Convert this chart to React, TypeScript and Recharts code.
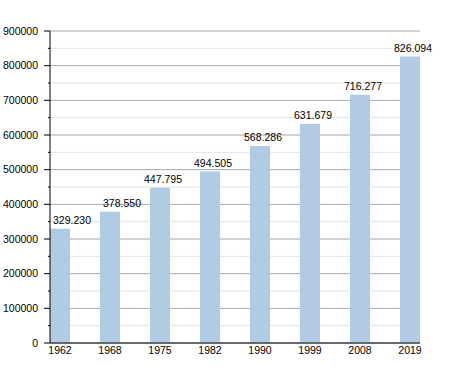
import { Bar, BarChart, CartesianGrid, LabelList, XAxis, YAxis } from "recharts";

const years = ["1962", "1968", "1975", "1982", "1990", "1999", "2008", "2019"];
const population = [329230, 378550, 447795, 494505, 568286, 631679, 716277, 826094];
const yTicks = [
  0, 50000, 100000, 150000, 200000, 250000, 300000, 350000, 400000, 450000,
  500000, 550000, 600000, 650000, 700000, 750000, 800000, 850000, 900000,
];
const majorTicks = yTicks.filter((v) => v % 100000 === 0);
const minorTicks = yTicks.filter((v) => v % 100000 !== 0);

const data = years.map((year, i) => ({ idx: i, year, value: population[i] }));

const font = "'Liberation Sans', Arial, sans-serif";

// 329230 -> "329.230"
const fmt = (n: number) => String(n).replace(/\B(?=(\d{3})+(?!\d))/g, ".");

function YTick(props: any) {
  const { x, y, payload } = props;
  const major = payload.value % 100000 === 0;
  return (
    <g>
      <line x1={x - (major ? 6 : 2)} x2={x} y1={y} y2={y} stroke="#000" />
      {major && (
        <text x={x - 12} y={y} dy="0.35em" textAnchor="end" fontSize={10.5} fontFamily={font} fill="#000">
          {payload.value}
        </text>
      )}
    </g>
  );
}

function ValueLabel(props: any) {
  const { x, y, width, value, index } = props;
  const shift = index < 2 ? 12 : 3;
  return (
    <text
      x={x + width / 2 + shift}
      y={y - 5}
      textAnchor="middle"
      fontSize={10.5}
      fontFamily={font}
      fill="#000"
    >
      {fmt(value)}
    </text>
  );
}

export default function App() {
  return (
    <div style={{ position: "absolute", left: 0, top: 0, background: "#fff" }}>
      <BarChart
        width={450}
        height={373}
        data={data}
        margin={{ top: 31, right: 30, bottom: 0, left: 0 }}
      >
        <CartesianGrid vertical={false} horizontalValues={minorTicks} stroke="#e3e3e3" />
        <CartesianGrid vertical={false} horizontalValues={majorTicks} stroke="#a6a6a6" />
        <XAxis
          dataKey="idx"
          type="number"
          domain={[-0.2, 7.2]}
          ticks={[0, 1, 2, 3, 4, 5, 6, 7]}
          tickFormatter={(i: number) => years[i]}
          height={30}
          tickLine={false}
          tickSize={0}
          tickMargin={4}
          axisLine={{ stroke: "#000" }}
          tick={{ fontSize: 10.5, fontFamily: font, fill: "#000" }}
          interval={0}
        />
        <YAxis
          width={50}
          domain={[0, 900000]}
          ticks={yTicks}
          interval={0}
          tickLine={false}
          tickSize={0}
          tickMargin={0}
          axisLine={{ stroke: "#000" }}
          tick={<YTick />}
        />
        <Bar dataKey="value" fill="#b2cbe5" barSize={20} isAnimationActive={false}>
          <LabelList dataKey="value" content={<ValueLabel />} />
        </Bar>
      </BarChart>
    </div>
  );
}
